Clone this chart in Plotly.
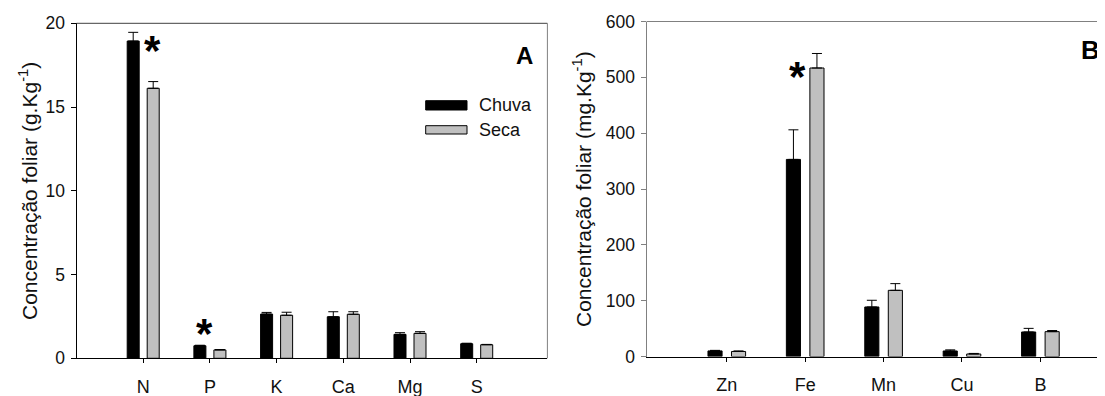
import plotly.graph_objects as go

# ---------------- data ----------------
series_names = ["Chuva", "Seca"]

cat_a = ["N", "P", "K", "Ca", "Mg", "S"]
chuva_a = [18.94, 0.75, 2.64, 2.48, 1.43, 0.87]
chuva_a_err = [0.52, 0.03, 0.10, 0.30, 0.10, 0.03]
seca_a = [16.12, 0.50, 2.57, 2.63, 1.49, 0.81]
seca_a_err = [0.40, 0.02, 0.18, 0.15, 0.10, 0.02]

cat_b = ["Zn", "Fe", "Mn", "Cu", "B"]
chuva_b = [10.0, 353.0, 88.7, 9.9, 43.9]
chuva_b_err = [1.0, 53.0, 12.0, 2.0, 6.5]
seca_b = [9.0, 516.7, 118.5, 4.5, 44.5]
seca_b_err = [1.0, 26.0, 12.0, 1.0, 2.0]

yticks_a = [0, 5, 10, 15, 20]
yticks_b = [0, 100, 200, 300, 400, 500, 600]

# significance stars: (category, height)
stars_a = [("N", 18.8), ("P", 1.89)]
stars_b = [("Fe", 510.0)]

title_a = "Concentração foliar (g.Kg<sup>-1</sup>)"
title_b = "Concentração foliar (mg.Kg<sup>-1</sup>)"

# ---------------- figure ----------------
OFF = 8  # page body margin
W, H = 1105 - OFF, 396 - OFF
FONT = "Arial, Liberation Sans, sans-serif"
BLACK = "#000000"
GREY_FILL = "#c0c0c0"
FRAME_GREY = "#808080"

def px_x(p):
    return (p - OFF) / W

def px_y(p):
    return 1 - (p - OFF) / H

fig = go.Figure()

def add_bars(cats, vals, errs, name, color, xa, ya):
    fig.add_trace(go.Bar(
        x=cats, y=vals, name=name, xaxis=xa, yaxis=ya,
        marker=dict(color=color, line=dict(color=BLACK, width=1)),
        error_y=dict(type="data", array=errs, arrayminus=[0] * len(errs),
                     symmetric=False, color=BLACK, thickness=1, width=5),
        showlegend=False,
    ))

add_bars(cat_a, chuva_a, chuva_a_err, series_names[0], BLACK, "x", "y")
add_bars(cat_a, seca_a, seca_a_err, series_names[1], GREY_FILL, "x", "y")
add_bars(cat_b, chuva_b, chuva_b_err, series_names[0], BLACK, "x2", "y2")
add_bars(cat_b, seca_b, seca_b_err, series_names[1], GREY_FILL, "x2", "y2")

xtickfont = dict(family=FONT, size=18, color="#111111")
ytickfont = dict(family=FONT, size=17.5, color="#111111")

common = dict(automargin=False, showgrid=False, zeroline=False, showline=True, linewidth=1)

fig.update_layout(
    template="none",
    width=W, height=H,
    margin=dict(l=0, r=0, t=0, b=0, pad=0),
    paper_bgcolor="white", plot_bgcolor="white",
    barmode="group", bargap=0.4, bargroupgap=0.4,
    font=dict(family=FONT, color="#111111"),
    showlegend=False,
    xaxis=dict(
        domain=[px_x(76.5), px_x(547.4)], anchor="y",
        type="category", categoryorder="array", categoryarray=cat_a,
        range=[-1.0, 6.06], linecolor=BLACK,
        ticks="outside", ticklen=4, tickcolor=BLACK, tickwidth=1, tickfont=xtickfont,
        ticklabelstandoff=8, **common,
    ),
    yaxis=dict(
        domain=[px_y(358.3), px_y(23.3)], anchor="x",
        range=[0, 20], tickvals=yticks_a, linecolor=BLACK,
        ticks="outside", ticklen=5, tickcolor=BLACK, tickwidth=1,
        tickfont=ytickfont, ticklabelstandoff=2, **common,
    ),
    xaxis2=dict(
        domain=[px_x(646.5), 1.0], anchor="y2",
        type="category", categoryorder="array", categoryarray=cat_b,
        range=[-1.024, 4.824], linecolor=BLACK,
        ticks="outside", ticklen=4, tickcolor=BLACK, tickwidth=1, tickfont=xtickfont,
        ticklabelstandoff=8, **common,
    ),
    yaxis2=dict(
        domain=[px_y(356.5), px_y(21.5)], anchor="x2",
        range=[0, 600], tickvals=yticks_b, linecolor=FRAME_GREY,
        ticks="outside", ticklen=5, tickcolor=FRAME_GREY, tickwidth=1,
        tickfont=ytickfont, ticklabelstandoff=2, **common,
    ),
)

# frame lines (top / right)
fig.add_shape(type="line", xref="x domain", yref="y domain", x0=0, x1=1, y0=1, y1=1,
              line=dict(color="#404040", width=1))
fig.add_shape(type="line", xref="x domain", yref="y domain", x0=1, x1=1, y0=0, y1=1,
              line=dict(color=FRAME_GREY, width=1))
fig.add_shape(type="line", xref="x2 domain", yref="y2 domain", x0=0, x1=1, y0=1, y1=1,
              line=dict(color=FRAME_GREY, width=1))

# axis titles
fig.add_annotation(text=title_a, xref="paper", yref="paper", x=px_x(28), y=px_y(191),
                   textangle=-90, showarrow=False, xanchor="center", yanchor="middle",
                   font=dict(family=FONT, size=21, color="#111111"))
fig.add_annotation(text=title_b, xref="paper", yref="paper", x=px_x(582), y=px_y(189),
                   textangle=-90, showarrow=False, xanchor="center", yanchor="middle",
                   font=dict(family=FONT, size=21, color="#111111"))

# panel letters
fig.add_annotation(text="<b>A</b>", xref="paper", yref="paper", x=px_x(524), y=px_y(55),
                   showarrow=False, xanchor="center", yanchor="middle",
                   font=dict(family=FONT, size=24, color=BLACK))
fig.add_annotation(text="<b>B</b>", xref="paper", yref="paper", x=px_x(1101), y=px_y(50),
                   showarrow=False, xanchor="right", yanchor="middle", borderpad=0,
                   font=dict(family=FONT, size=26, color=BLACK))

# stars
star_font = dict(family=FONT, size=42, color=BLACK)
star_shift_a = {"N": 9, "P": -5}
for c, h in stars_a:
    fig.add_annotation(text="<b>*</b>", xref="x", yref="y", x=c, y=h, showarrow=False,
                       xanchor="center", yanchor="middle", xshift=star_shift_a[c],
                       yshift=-7, font=star_font)
for c, h in stars_b:
    fig.add_annotation(text="<b>*</b>", xref="x2", yref="y2", x=c, y=h, showarrow=False,
                       xanchor="center", yanchor="middle", xshift=-8,
                       yshift=-5, font=star_font)

# legend (panel A)
leg_colors = [BLACK, GREY_FILL]
leg_y = [(100.7, 110.0), (125.7, 134.0)]
for name, col, (ya0, ya1) in zip(series_names, leg_colors, leg_y):
    fig.add_shape(type="rect", xref="paper", yref="paper",
                  x0=px_x(425.7), x1=px_x(467.0), y0=px_y(ya1), y1=px_y(ya0),
                  fillcolor=col, line=dict(color=BLACK, width=1))
    fig.add_annotation(text=name, xref="paper", yref="paper", x=px_x(476.5),
                       y=px_y((ya0 + ya1) / 2), showarrow=False, xanchor="left",
                       yanchor="middle", font=dict(family=FONT, size=18, color="#111111"))

fig.write_html("out.html")
